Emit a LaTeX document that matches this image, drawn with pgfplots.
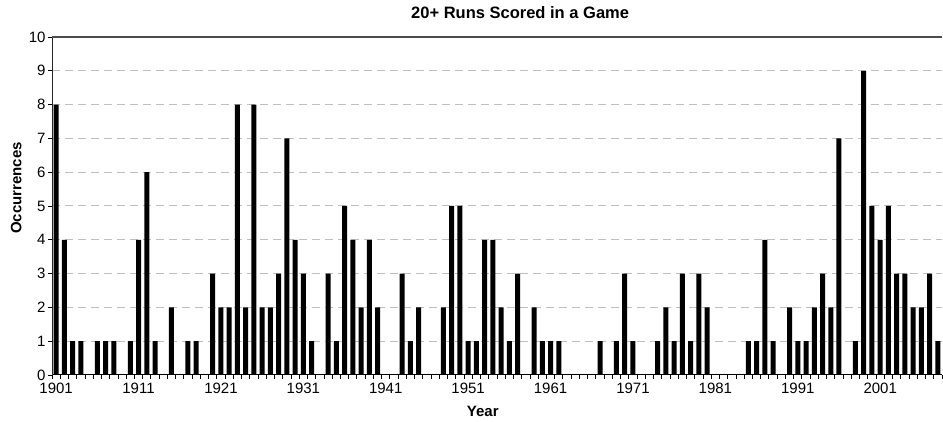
\documentclass[border=0pt]{standalone}
\usepackage{fontspec}
\setmainfont{Liberation Sans}
\usepackage{pgfplots}
\pgfplotsset{compat=1.18}
\usepackage{pgfplotstable}
\pgfplotstableread{
year n
1901 8
1902 4
1903 1
1904 1
1906 1
1907 1
1908 1
1910 1
1911 4
1912 6
1913 1
1915 2
1917 1
1918 1
1920 3
1921 2
1922 2
1923 8
1924 2
1925 8
1926 2
1927 2
1928 3
1929 7
1930 4
1931 3
1932 1
1934 3
1935 1
1936 5
1937 4
1938 2
1939 4
1940 2
1943 3
1944 1
1945 2
1948 2
1949 5
1950 5
1951 1
1952 1
1953 4
1954 4
1955 2
1956 1
1957 3
1959 2
1960 1
1961 1
1962 1
1967 1
1969 1
1970 3
1971 1
1974 1
1975 2
1976 1
1977 3
1978 1
1979 3
1980 2
1985 1
1986 1
1987 4
1988 1
1990 2
1991 1
1992 1
1993 2
1994 3
1995 2
1996 7
1998 1
1999 9
2000 5
2001 4
2002 5
2003 3
2004 3
2005 2
2006 2
2007 3
2008 1
}\runs
\begin{document}
\begin{tikzpicture}
\begin{axis}[
  scale only axis, width=890pt, height=338pt,
  xmin=1900.5, xmax=2008.5, ymin=0, ymax=10,
  axis x line*=bottom, axis y line*=left,
  x axis line style={black, line width=1pt, -},
  y axis line style={black!85, line width=1pt, -},
  ybar, bar width=5pt,
  xtick={1901,1911,...,2001},
  minor xtick={1900.5,1901.5,...,2008.5},
  every major x tick/.append style={draw=none},
  ytick={0,1,...,10},
  tick align=outside,
  major tick length=4pt, minor tick length=4pt,
  tick style={black, line width=0.8pt},
  ymajorgrids,
  major y grid style={black!25, line width=1pt, dash pattern=on 8pt off 5pt},
  /pgf/number format/1000 sep={},
  /pgf/number format/assume math mode=true,
  tick label style={font=\fontsize{15}{18}\selectfont, text=black},
  xticklabel style={yshift=-0.5pt},
  yticklabel style={xshift=1pt},
  title={\bfseries 20+ Runs Scored in a Game},
  title style={at={(axis description cs:0.526,1)}, anchor=base, yshift=12pt, font=\fontsize{16.5}{18}\selectfont},
  xlabel={\bfseries Year},
  xlabel style={at={(axis description cs:0.484,0)}, anchor=base, yshift=-42pt, font=\fontsize{15}{17}\selectfont},
  ylabel={\bfseries Occurrences},
  ylabel style={at={(axis description cs:0,0.553)}, anchor=south, yshift=27pt, font=\fontsize{15}{17}\selectfont},
  clip=false,
]
\addplot[fill=black, draw=none] table[x=year, y=n] {\runs};
\draw[black!70, line width=1.2pt] (rel axis cs:0,1) -- (rel axis cs:1,1);
\coordinate (BL) at (rel axis cs:0,0);
\coordinate (TR) at (rel axis cs:1,1);
\end{axis}
\pgfresetboundingbox
\path[use as bounding box] ([xshift=-52pt,yshift=-47pt]BL) rectangle ([xshift=1pt,yshift=37pt]TR);
\end{tikzpicture}
\end{document}
